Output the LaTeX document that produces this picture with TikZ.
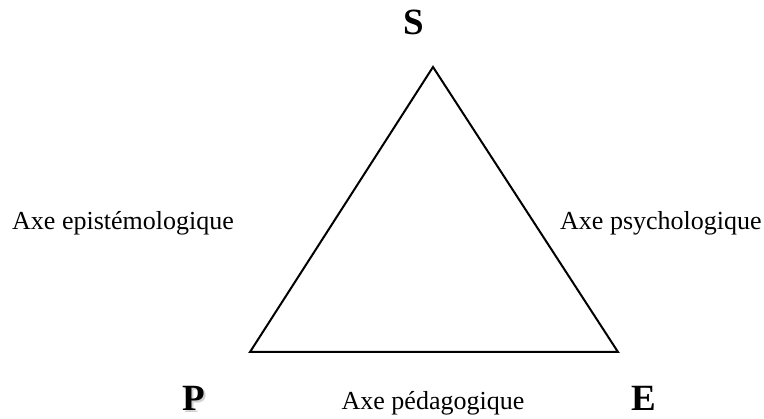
\documentclass[tikz,border=0pt]{standalone}
\usepackage{fontspec}
\setmainfont{Liberation Serif}
\usepackage{tikz}
\usetikzlibrary{positioning}

\begin{document}
\begin{tikzpicture}[
    x=1pt, y=-1pt,
    axe/.style={inner sep=0pt, font=\fontsize{26}{30}\selectfont},
    pole/.style={inner sep=0pt, anchor=base, font=\fontsize{37}{40}\selectfont\bfseries},
    side/.style={line width=2pt, line join=miter}
]
    \useasboundingbox (0,0) rectangle (764,419);

    % sommets du triangle
    \coordinate (savoir) at (433,67);
    \coordinate (prof) at (250,352);
    \coordinate (eleve) at (618,352);

    \draw[side] (savoir) -- (prof) -- (eleve) -- cycle;

    % les poles
    \node[pole] (S) at (414,35) {S};
    \node[pole, text=black!18] (Pshadow) at (195.5,412.5) {P};
    \node[pole] (P) at (194,411) {P};
    \node[pole] (E) at (644,411) {E};

    % les axes
    \node[axe, anchor=base west] (epis) at (12,230) {Axe epistémologique};
    \node[axe, anchor=base west] (psy) at (560,230) {Axe psychologique};
    \node[axe, anchor=base] (peda) at (433,410) {Axe pédagogique};
\end{tikzpicture}
\end{document}
